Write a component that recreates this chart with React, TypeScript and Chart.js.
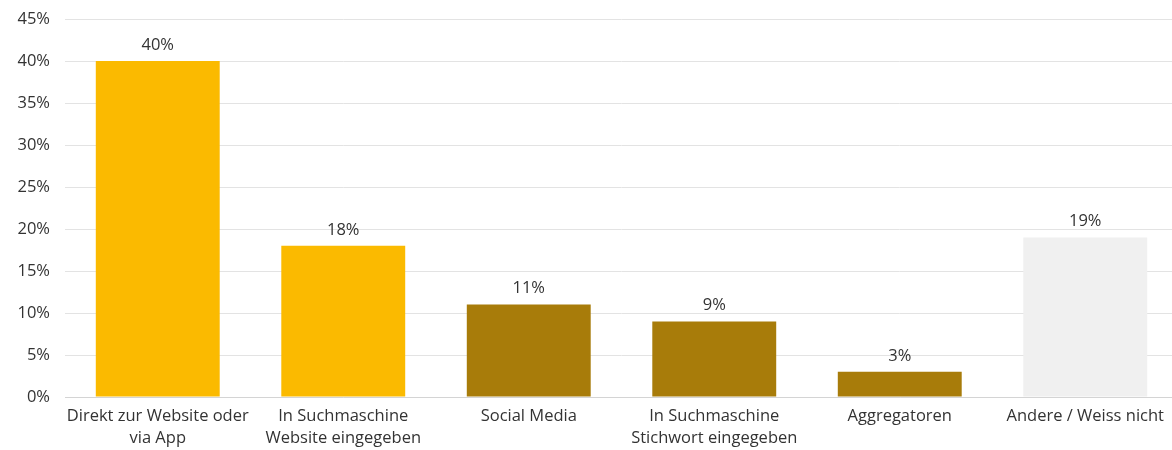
import React, { useEffect, useRef } from "react";
import { Chart, registerables } from "chart.js";

Chart.register(...registerables);

const categories: string[][] = [
  ["Direkt zur Website oder", "via App"],
  ["In Suchmaschine", "Website eingegeben"],
  ["Social Media"],
  ["In Suchmaschine", "Stichwort eingegeben"],
  ["Aggregatoren"],
  ["Andere / Weiss nicht"],
];
const values: number[] = [40, 18, 11, 9, 3, 19];
const barColors: string[] = ["#FBBA00", "#FBBA00", "#A87C0A", "#A87C0A", "#A87C0A", "#F0F0F0"];
const yTicks: number[] = [0, 5, 10, 15, 20, 25, 30, 35, 40, 45];

const FONT = "'Open Sans', 'Noto Sans', sans-serif";
const FS = 16.5;
const W = 1178;
const H = 450;

const valueLabels = {
  id: "valueLabels",
  afterDatasetsDraw(chart: any) {
    const ctx = chart.ctx;
    const meta = chart.getDatasetMeta(0);
    ctx.save();
    ctx.font = `${FS}px ${FONT}`;
    ctx.fillStyle = "#333333";
    ctx.textAlign = "center";
    ctx.textBaseline = "middle";
    meta.data.forEach((bar: any, i: number) => {
      ctx.fillText(`${values[i]}%`, bar.x, bar.y - 16);
    });
    ctx.restore();
  },
};

export default function App() {
  const ref = useRef<HTMLCanvasElement>(null);
  useEffect(() => {
    document.body.style.margin = "0";
    document.body.style.overflow = "hidden";
    const chart = new Chart(ref.current!, {
      type: "bar",
      data: {
        labels: categories,
        datasets: [
          {
            data: values,
            backgroundColor: barColors,
            barPercentage: 0.668,
            categoryPercentage: 1,
          },
        ],
      },
      options: {
        animation: false,
        responsive: false,
        maintainAspectRatio: false,
        layout: { padding: { top: 19, right: 0, left: 0, bottom: 0 } },
        plugins: { legend: { display: false }, tooltip: { enabled: false } },
        scales: {
          x: {
            grid: { display: false, drawTicks: false },
            border: { display: true, color: "#D4D4D4", width: 1 },
            afterFit: (scale: any) => {
              scale.height = 53;
              scale.paddingLeft = 0;
              scale.paddingRight = 0;
            },
            ticks: {
              color: "#333333",
              font: { family: FONT, size: FS, lineHeight: 1.35 },
              padding: 8,
              maxRotation: 0,
              autoSkip: false,
            },
          },
          y: {
            min: 0,
            max: 45,
            afterBuildTicks: (scale: any) => {
              scale.ticks = yTicks.map((v) => ({ value: v }));
            },
            afterFit: (scale: any) => {
              scale.width = 65;
              scale.paddingTop = 0;
              scale.paddingBottom = 0;
            },
            grid: { color: "#E3E3E3", drawTicks: false, lineWidth: 1 },
            border: { display: false },
            ticks: {
              color: "#333333",
              font: { family: FONT, size: FS },
              padding: 15,
              callback: (v: any) => `${v}%`,
            },
          },
        },
      },
      plugins: [valueLabels],
    });
    return () => chart.destroy();
  }, []);
  return (
    <div style={{ width: W, height: H, overflow: "hidden" }}>
      <canvas ref={ref} width={W} height={H} />
    </div>
  );
}
